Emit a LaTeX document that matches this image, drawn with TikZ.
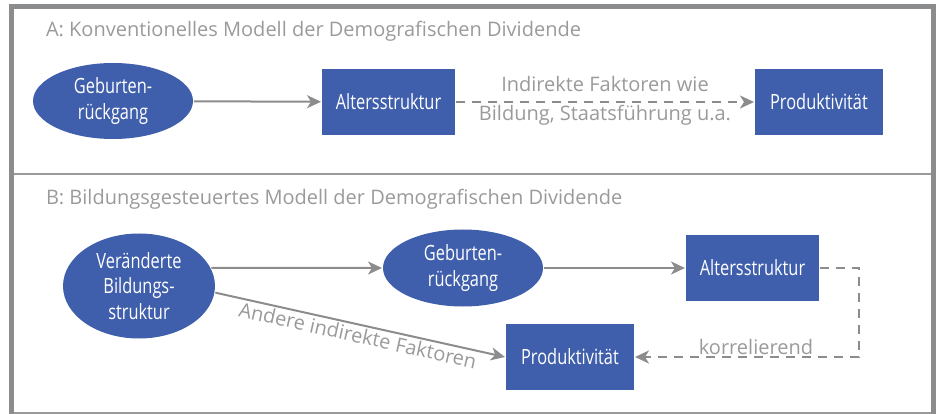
\documentclass[tikz,border=0pt]{standalone}
\usepackage{fontspec}
\setmainfont{Open Sans}
\newfontfamily\condfont[FakeStretch=0.78]{Open Sans}
\usepackage{tikz}
\usetikzlibrary{arrows.meta,shapes.geometric,positioning}

\definecolor{nodeblue}{HTML}{3F5EAB}
\definecolor{linegray}{HTML}{8C8C8C}
\definecolor{textgray}{HTML}{9A9A9A}
\definecolor{framegray}{HTML}{8B8C8E}

\begin{document}
\begin{tikzpicture}[x=1pt,y=-1pt,->,>={Stealth[length=14pt,width=13pt,inset=4pt]},
                    line width=2pt,draw=linegray,
                    oval node/.style={ellipse,fill=nodeblue,draw=none,inner sep=0pt,text=white,
                                      font=\condfont\fontsize{21}{25.5}\selectfont,align=center},
                    rect node/.style={rectangle,fill=nodeblue,draw=none,inner sep=0pt,text=white,
                                      minimum width=130pt,minimum height=66pt,
                                      font=\condfont\fontsize{21}{25.5}\selectfont},
                    label text/.style={text=textgray,font=\fontsize{20}{24}\selectfont}]

  \useasboundingbox (0,0) rectangle (940,414);

  % frame
  \draw[-,framegray,line width=5pt] (11.5,414) -- (11.5,6.5) -- (933,6.5) -- (933,414);
  \draw[-,textgray,line width=2pt] (14,174) -- (930.5,174);
  \draw[-,textgray,line width=2pt] (14,413) -- (930.5,413);

  \node[label text,anchor=base west,inner sep=0pt] (titleA) at (45,37)
    {A: Konventionelles Modell der Demografischen Dividende};
  \node[label text,anchor=base west,inner sep=0pt] (titleB) at (45,205)
    {B: Bildungsgesteuertes Modell der Demografischen Dividende};

  % model A
  \node[oval node,minimum width=160pt,minimum height=76pt] (gebA) at (113,101) {Geburten-\\rückgang};
  \node[rect node,minimum width=133pt] (altA) at (388.5,102) {Altersstruktur};
  \node[rect node,minimum width=128pt] (prodA) at (819,102) {Produktivität};

  \path (gebA) edge (altA);
  \draw[dashed,dash pattern=on 9pt off 7pt] (altA) -- (prodA)
    node[midway,above,label text,inner sep=9pt] {Indirekte Faktoren wie}
    node[midway,below,label text,inner sep=2pt] {Bildung, Staatsführung u.a.};

  % model B
  \node[oval node,minimum width=152pt,minimum height=105pt] (bildB) at (139,286) {Veränderte\\Bildungs-\\struktur};
  \node[oval node,minimum width=160pt,minimum height=77pt] (gebB) at (463,268) {Geburten-\\rückgang};
  \node[rect node,minimum width=133pt] (altB) at (752.5,268) {Altersstruktur};
  \node[rect node,minimum width=128pt] (prodB) at (570,357) {Produktivität};

  \draw (bildB.14) -- (gebB.west);
  \draw (gebB) -- (altB);
  \draw (bildB.-5) -- (prodB.west)
    node[midway,below,sloped,label text,inner sep=2pt] {Andere indirekte Faktoren};
  \draw[dashed,dash pattern=on 9pt off 7pt] (altB.east) -- ++(39,0) |- (prodB.east)
    node[pos=0.73,above,label text,inner sep=1pt] {korrelierend};

\end{tikzpicture}
\end{document}
